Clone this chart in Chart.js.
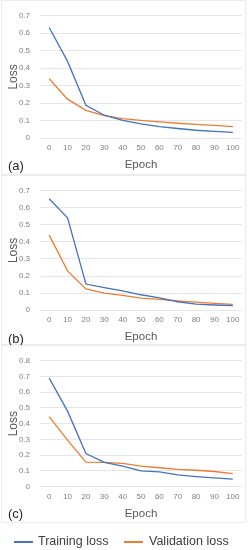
<!DOCTYPE html>
<html>
<head>
<meta charset="utf-8">
<script src="https://cdn.jsdelivr.net/npm/chart.js@4.4.1/dist/chart.umd.min.js"></script>
<style>
body{margin:0;background:#fff;width:248px;height:550px;position:relative;overflow:hidden;font-family:"Liberation Sans",Arial,sans-serif;}
.panel{position:absolute;left:1px;width:245px;box-sizing:border-box;border:1px solid #ececec;}
.panel .tag{position:absolute;left:6px;font-size:13px;color:#262626;line-height:13px;}
.legend{position:absolute;top:533px;left:0;width:248px;height:17px;font-size:12.5px;color:#404040;}
.legend span{position:absolute;top:0;line-height:17px;}
.legend i{position:absolute;top:8px;height:2px;width:19px;}
</style>
</head>
<body>
<div class="panel" style="top:0;height:175px"><canvas id="canvas1"></canvas><div class="tag" style="top:158px">(a)</div></div>
<div class="panel" style="top:175px;height:170px"><canvas id="canvas2"></canvas><div class="tag" style="top:156px">(b)</div></div>
<div class="panel" style="top:345px;height:178px"><canvas id="canvas3"></canvas><div class="tag" style="top:161px">(c)</div></div>
<div class="legend">
	<i style="left:14px;background:#4472C4"></i><span style="left:38px">Training loss</span>
	<i style="left:124px;background:#ED7D31"></i><span style="left:149px">Validation loss</span>
</div>
<script>
var epochs = ["0","10","20","30","40","50","60","70","80","90","100"];

var trainA = [0.633,0.439,0.188,0.131,0.102,0.081,0.066,0.055,0.045,0.038,0.033];
var validA = [0.340,0.223,0.159,0.128,0.112,0.102,0.093,0.085,0.079,0.073,0.066];

var trainB = [0.653,0.542,0.153,0.132,0.113,0.090,0.072,0.049,0.035,0.030,0.026];
var validB = [0.440,0.230,0.124,0.100,0.087,0.070,0.063,0.054,0.047,0.040,0.033];

var trainC = [0.690,0.480,0.210,0.154,0.130,0.100,0.094,0.074,0.064,0.056,0.048];
var validC = [0.445,0.295,0.156,0.154,0.148,0.130,0.120,0.110,0.104,0.096,0.082];

/**
 * one loss panel
 */
function paintLoss(id, w, h, train, valid, yMax, pad){
	var cv = document.getElementById(id);
	cv.width = w; cv.height = h;
	cv.style.width = w+"px"; cv.style.height = h+"px";
	var config = {
		type: 'line',
		data: {
			labels: epochs,
			datasets: [{
				label: "Training loss",
				data: train,
				borderColor: "#4472C4",
				borderWidth: 1.3,
				pointRadius: 0,
				lineTension: 0,
				fill: false
			},{
				label: "Validation loss",
				data: valid,
				borderColor: "#ED7D31",
				borderWidth: 1.3,
				pointRadius: 0,
				lineTension: 0,
				fill: false
			}]
		},
		options: {
			responsive: false,
			animation: false,
			layout: {padding: pad},
			plugins: {legend: {display: false}, tooltip: {enabled: false}},
			scales: {
				x: {
					offset: true,
					grid: {display: false, drawTicks: false},
					border: {display: false},
					ticks: {color: "#7f7f7f", font: {family: "Liberation Sans", size: 8}, padding: 5, maxRotation: 0, autoSkip: false},
					title: {display: true, text: "Epoch", color: "#595959", font: {family: "Liberation Sans", size: 11.5}, padding: {top: 0.5, bottom: 0}}
				},
				y: {
					min: 0,
					max: yMax,
					afterFit: function(s){ s.width = 34; },
					grid: {color: "#e6e6e6", drawTicks: false},
					border: {display: false},
					ticks: {stepSize: 0.1, color: "#7f7f7f", font: {family: "Liberation Sans", size: 8}, padding: 10,
						callback: function(v){ return v === 0 ? "0" : v.toFixed(1); }},
					title: {display: true, text: "Loss", color: "#595959", font: {family: "Liberation Sans", size: 12}, padding: {top: 0, bottom: 0}}
				}
			}
		}
	};
	return new Chart(cv.getContext("2d"), config);
}

window.myLine1 = paintLoss("canvas1", 243, 173, trainA, validA, 0.7, {left: 4, right: 3, top: 7, bottom: 2});
window.myLine2 = paintLoss("canvas2", 243, 168, trainB, validB, 0.7, {left: 4, right: 3, top: 6, bottom: 0});
window.myLine3 = paintLoss("canvas3", 243, 176, trainC, validC, 0.8, {left: 4, right: 3, top: 11, bottom: 1.5});
</script>
</body>
</html>
